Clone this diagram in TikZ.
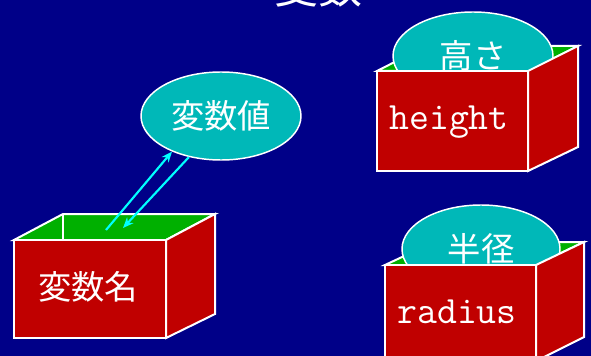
\documentclass[tikz,border=0pt]{standalone}
\usepackage{fontspec}
\newfontfamily\jpfont{Noto Sans CJK JP}
\usetikzlibrary{arrows.meta}
\usetikzlibrary{shapes}

\begin{document}
\begin{tikzpicture}[x=0.75pt,y=0.75pt,yscale=-1,xscale=1,
  rim/.style={draw=white,line width=1.5pt},
  lidface/.style={rim,fill={rgb, 255:red, 0; green, 176; blue, 0 }},
  boxface/.style={rim,fill={rgb, 255:red, 192; green, 0; blue, 0 }},
  bubble/.style={ellipse,draw=white,line width=1.1pt,fill={rgb, 255:red, 0; green, 184; blue, 184 },inner sep=0pt,minimum width=120pt,minimum height=66pt,text=white,font=\jpfont\fontsize{25}{30}\selectfont},
  jptext/.style={text=white,font=\jpfont\fontsize{25}{30}\selectfont},
  codetext/.style={text=white,anchor=base,font=\ttfamily\fontsize{29}{32}\selectfont},
  link/.style={draw={rgb, 255:red, 0; green, 255; blue, 255 },line width=1.6pt,-{Stealth[length=8pt,width=6.5pt,inset=2.5pt]}}]
\useasboundingbox (0,0) rectangle (591,356);
\clip (0,0) rectangle (591,356);

%Background
\fill [fill={rgb, 255:red, 0; green, 0; blue, 136 }] (0,0) rectangle (591,356);

% Text Node
\node (title) [jptext,font=\jpfont\fontsize{33}{40}\selectfont] at (318,-13) {変数};

%Shape: Box (name)
\draw [lidface] (14,240) -- (63,214) -- (215,214) -- (166,240) -- cycle;
\draw [rim] (63,214) -- (63,240);
\draw [boxface] (14,240) rectangle (166,338);
\draw [boxface] (166,240) -- (215,214) -- (215,314) -- (166,338) -- cycle;
% Text Node
\node (name) [jptext] at (88,287) {変数名};

%Shape: Ellipse (value)
\node (value) [bubble] at (221,116) {変数値};

%Straight Lines
\coordinate (putin) at (106,230);
\coordinate (takeout) at (123,228);
\draw [link] (putin) -- (value.216);
\draw [link] (value.232) -- (takeout);

%Shape: Box (height)
\draw [lidface] (377,71) -- (426,46) -- (578,46) -- (528,71) -- cycle;
\node (heightval) [bubble] at (473,56) {高さ};
\draw [boxface] (377,71) rectangle (528,171);
\draw [boxface] (528,71) -- (578,46) -- (578,147) -- (528,171) -- cycle;
% Text Node
\node (heightname) [codetext] at (449,129) {height};

%Shape: Box (radius)
\draw [lidface] (385,265) -- (434,242) -- (584,242) -- (536,265) -- cycle;
\node (radiusval) [bubble,minimum width=118.5pt] at (481,249) {半径};
\draw [boxface] (385,265) rectangle (536,368);
\draw [boxface] (536,265) -- (584,242) -- (584,337) -- (536,361) -- cycle;
% Text Node
\node (radiusname) [codetext] at (457,323) {radius};

\end{tikzpicture}
\end{document}
